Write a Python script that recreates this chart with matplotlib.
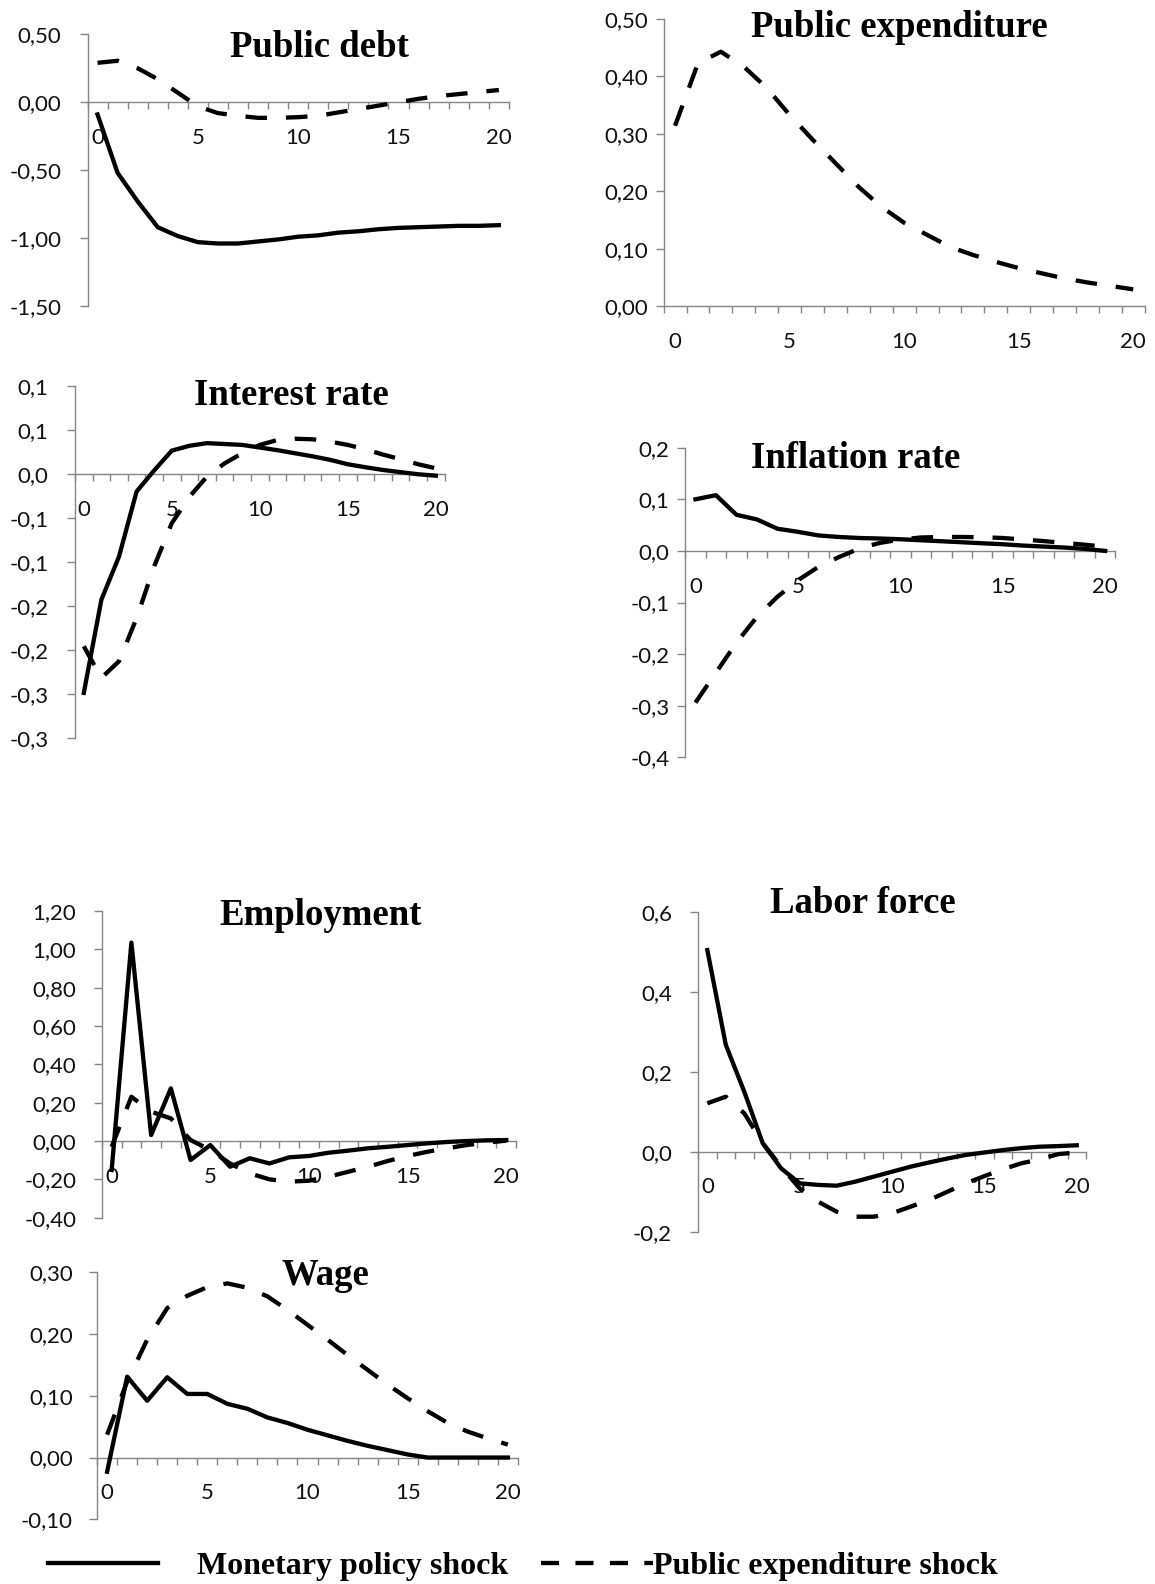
"""Impulse responses to a monetary policy shock and a public expenditure shock."""
import matplotlib.pyplot as plt
from matplotlib.lines import Line2D
import numpy as np

W, H = 1155, 1584
AXIS = "#868686"
INK = "#111111"
TICK_FONT = "Lato"
TITLE_FONT = "Liberation Serif"

periods = np.arange(21)

debt_monetary = [-0.09, -0.52, -0.73, -0.92, -0.985, -1.03, -1.04, -1.04, -1.025, -1.01, -0.99,
                 -0.98, -0.96, -0.95, -0.935, -0.925, -0.92, -0.915, -0.91, -0.91, -0.905]
debt_spending = [0.29, 0.305, 0.25, 0.17, 0.07, -0.03, -0.08, -0.10, -0.115, -0.115, -0.11,
                 -0.10, -0.075, -0.05, -0.025, 0.0, 0.025, 0.045, 0.06, 0.075, 0.09]

spend_spending = [0.314, 0.423, 0.443, 0.417, 0.38, 0.333, 0.29, 0.249, 0.208, 0.173, 0.145,
                  0.124, 0.103, 0.089, 0.077, 0.066, 0.057, 0.048, 0.041, 0.035, 0.029]

rate_monetary = [-0.249, -0.143, -0.094, -0.020, 0.004, 0.0265, 0.032, 0.035, 0.034, 0.033, 0.030,
                 0.027, 0.0235, 0.020, 0.016, 0.011, 0.0076, 0.0045, 0.002, -0.0004, -0.002]
rate_spending = [-0.196, -0.232, -0.213, -0.164, -0.105, -0.056, -0.026, -0.003, 0.012, 0.0235, 0.033,
                 0.0386, 0.040, 0.0394, 0.0367, 0.033, 0.028, 0.022, 0.0167, 0.011, 0.0064]

infl_monetary = [0.100, 0.108, 0.070, 0.061, 0.043, 0.037, 0.030, 0.027, 0.025, 0.024, 0.0226,
                 0.0206, 0.0187, 0.0168, 0.0148, 0.0129, 0.0103, 0.0084, 0.0065, 0.0039, 0.0]
infl_spending = [-0.294, -0.236, -0.178, -0.128, -0.089, -0.057, -0.031, -0.012, 0.0045, 0.0155, 0.022,
                 0.026, 0.027, 0.027, 0.0265, 0.025, 0.022, 0.019, 0.0155, 0.012, 0.008]

empl_monetary = [-0.151, 1.035, 0.031, 0.275, -0.099, -0.021, -0.134, -0.090, -0.117, -0.085, -0.078,
                 -0.061, -0.050, -0.038, -0.030, -0.021, -0.012, -0.005, 0.0, 0.0035, 0.005]
empl_spending = [-0.03, 0.231, 0.153, 0.118, 0.005, -0.047, -0.117, -0.169, -0.200, -0.212, -0.207,
                 -0.186, -0.160, -0.134, -0.104, -0.078, -0.056, -0.038, -0.021, -0.009, 0.002]

labor_monetary = [0.504, 0.267, 0.15, 0.021, -0.042, -0.079, -0.083, -0.085, -0.075, -0.0625, -0.05,
                  -0.0375, -0.027, -0.017, -0.008, -0.002, 0.004, 0.009, 0.0125, 0.014, 0.016]
labor_spending = [0.121, 0.1375, 0.096, 0.021, -0.0375, -0.092, -0.125, -0.15, -0.1625, -0.1625, -0.154,
                  -0.1375, -0.121, -0.10, -0.079, -0.061, -0.044, -0.029, -0.019, -0.006, -0.002]

wage_monetary = [-0.023, 0.131, 0.092, 0.130, 0.103, 0.103, 0.087, 0.079, 0.065, 0.056, 0.045,
                 0.036, 0.027, 0.019, 0.012, 0.005, 0.0, 0.0, 0.0, 0.0, 0.0]
wage_spending = [0.037, 0.123, 0.191, 0.242, 0.262, 0.276, 0.282, 0.275, 0.261, 0.239, 0.215,
                 0.191, 0.166, 0.142, 0.118, 0.096, 0.075, 0.056, 0.042, 0.031, 0.021]

debt_ticks = [-1.5, -1.0, -0.5, 0.0, 0.5]
debt_labels = ["-1,50", "-1,00", "-0,50", "0,00", "0,50"]
spend_ticks = [0.0, 0.1, 0.2, 0.3, 0.4, 0.5]
spend_labels = ["0,00", "0,10", "0,20", "0,30", "0,40", "0,50"]
rate_ticks = [-0.3, -0.25, -0.2, -0.15, -0.1, -0.05, 0.0, 0.05, 0.1]
rate_labels = ["-0,3", "-0,3", "-0,2", "-0,2", "-0,1", "-0,1", "0,0", "0,1", "0,1"]
infl_ticks = [-0.4, -0.3, -0.2, -0.1, 0.0, 0.1, 0.2]
infl_labels = ["-0,4", "-0,3", "-0,2", "-0,1", "0,0", "0,1", "0,2"]
empl_ticks = [-0.4, -0.2, 0.0, 0.2, 0.4, 0.6, 0.8, 1.0, 1.2]
empl_labels = ["-0,40", "-0,20", "0,00", "0,20", "0,40", "0,60", "0,80", "1,00", "1,20"]
labor_ticks = [-0.2, 0.0, 0.2, 0.4, 0.6]
labor_labels = ["-0,2", "0,0", "0,2", "0,4", "0,6"]
wage_ticks = [-0.1, 0.0, 0.1, 0.2, 0.3]
wage_labels = ["-0,10", "0,00", "0,10", "0,20", "0,30"]

LW = 3.1
DASH = (0, (5.0, 4.4))

fig = plt.figure(figsize=(W / 100, H / 100), dpi=100, facecolor="white")


def px_axes(left, top, right, bottom):
    return fig.add_axes([left / W, 1 - bottom / H, (right - left) / W, (bottom - top) / H])


def panel(box, title, title_xy, monetary, spending, yticks, ylabels, ypad):
    ax = px_axes(*box)
    ax.patch.set_alpha(0)
    if monetary is not None:
        ax.plot(periods, monetary, color="black", lw=LW, zorder=3)
    ax.plot(periods, spending, color="black", lw=LW, ls=DASH, zorder=3)
    ax.set_xlim(-0.5, 20.5)
    ax.set_ylim(yticks[0], yticks[-1])
    for side in ("top", "right"):
        ax.spines[side].set_visible(False)
    ax.spines["bottom"].set_position(("data", 0))
    for side in ("left", "bottom"):
        ax.spines[side].set_color(AXIS)
        ax.spines[side].set_linewidth(1.0)
    ax.set_yticks(yticks)
    ax.set_yticklabels(ylabels)
    ax.set_xticks([0, 5, 10, 15, 20])
    ax.set_xticklabels(["0", "5", "10", "15", "20"])
    ax.set_xticks(np.arange(-0.5, 21, 1.0), minor=True)
    ax.tick_params(axis="x", which="major", length=0, pad=18.5)
    ax.tick_params(axis="x", which="minor", length=5.3, width=1.0, color=AXIS, direction="out")
    ax.tick_params(axis="y", length=6, width=1.0, color=AXIS, direction="out", pad=ypad)
    for lab in ax.get_xticklabels() + ax.get_yticklabels():
        lab.set_fontfamily(TICK_FONT)
        lab.set_fontsize(16)
        lab.set_color(INK)
    fig.text(title_xy[0] / W, 1 - title_xy[1] / H, title, ha="center", va="baseline",
             fontfamily=TITLE_FONT, fontweight="bold", fontsize=26.5, color="black")
    return ax


panel((87.5, 34.3, 508.9, 306), "Public debt", (319.6, 57),
      debt_monetary, debt_spending, debt_ticks, debt_labels, 12.7)
panel((663.6, 19, 1144.7, 306), "Public expenditure", (899.4, 37),
      None, spend_spending, spend_ticks, spend_labels, 5.3)
panel((75, 386, 444.6, 737.7), "Interest rate", (291, 405),
      rate_monetary, rate_spending, rate_ticks, rate_labels, 12.9)
panel((685.2, 447.7, 1115.4, 757.3), "Inflation rate", (856, 468),
      infl_monetary, infl_spending, infl_ticks, infl_labels, 5.3)
panel((101.8, 911, 516.1, 1217.7), "Employment", (320.5, 925),
      empl_monetary, empl_spending, empl_ticks, empl_labels, 12.4)
panel((698.1, 911.7, 1086, 1231.7), "Labor force", (862.4, 913),
      labor_monetary, labor_spending, labor_ticks, labor_labels, 12.7)
panel((97.1, 1272.3, 517.9, 1519.3), "Wage", (325.9, 1285),
      wage_monetary, wage_spending, wage_ticks, wage_labels, 11.6)

legend_font = {"family": TITLE_FONT, "weight": "bold", "size": 23}
fig.legend(handles=[Line2D([], [], color="black", lw=LW)], labels=["Monetary policy shock"],
           loc="center left", bbox_to_anchor=(48 / W, 1 - 1566 / H), frameon=False,
           handlelength=3.45, handletextpad=1.22, borderpad=0, borderaxespad=0, prop=legend_font)
fig.legend(handles=[Line2D([], [], color="black", lw=LW, ls=(0, (4.2, 3.8)))],
           labels=["Public expenditure shock"],
           loc="center left", bbox_to_anchor=(541 / W, 1 - 1566 / H), frameon=False,
           handlelength=3.51, handletextpad=0.0, borderpad=0, borderaxespad=0, prop=legend_font)

fig.savefig("out.png", dpi=100, facecolor="white")
plt.close(fig)
